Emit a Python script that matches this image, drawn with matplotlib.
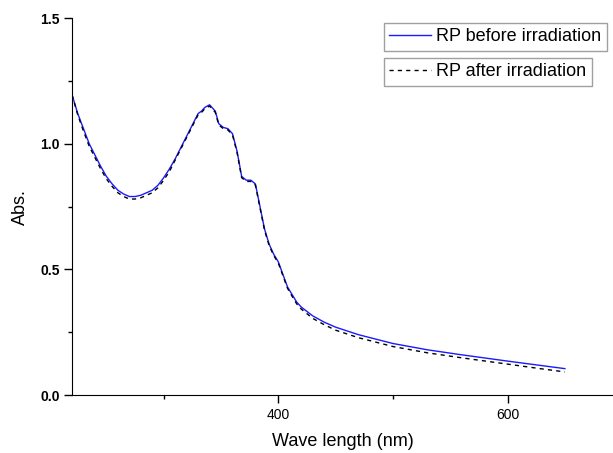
import numpy as np
import matplotlib
matplotlib.use("Agg")
import matplotlib.pyplot as plt
from matplotlib.ticker import MultipleLocator

plt.rcParams['font.family'] = ['Liberation Sans', 'DejaVu Sans']

# wavelength (nm) and absorbance
wavelength = [220, 225, 230, 235, 240, 245, 250, 255, 260, 265, 270, 275, 280,
              285, 290, 295, 300, 305, 310, 315, 320, 325, 330, 333, 336, 340, 345,
              348, 352, 356, 360, 364, 368, 372, 376, 380, 384, 388, 392, 396,
              400, 404, 408, 412, 416, 420, 430, 440, 450, 470, 500, 530, 560,
              600, 630, 650]
abs_before = [1.195, 1.12, 1.06, 1.00, 0.955, 0.91, 0.87, 0.84, 0.815, 0.80, 0.79,
              0.79, 0.795, 0.805, 0.815, 0.835, 0.865, 0.90, 0.94, 0.985, 1.03, 1.075,
              1.12, 1.13, 1.145, 1.155, 1.13, 1.08, 1.065, 1.06, 1.04, 0.97, 0.87, 0.855,
              0.855, 0.84, 0.75, 0.66, 0.60, 0.56, 0.53, 0.48, 0.43, 0.40, 0.37,
              0.35, 0.315, 0.29, 0.27, 0.24, 0.205, 0.18, 0.16, 0.135, 0.117, 0.105]
abs_after = [1.195, 1.115, 1.05, 0.99, 0.945, 0.90, 0.86, 0.83, 0.805, 0.79, 0.78,
             0.78, 0.785, 0.795, 0.805, 0.825, 0.855, 0.89, 0.935, 0.98, 1.025, 1.07,
             1.115, 1.125, 1.14, 1.15, 1.125, 1.075, 1.06, 1.055, 1.035, 0.965, 0.865, 0.85,
             0.85, 0.835, 0.745, 0.655, 0.595, 0.555, 0.525, 0.475, 0.425, 0.393, 0.363,
             0.342, 0.305, 0.28, 0.258, 0.228, 0.193, 0.168, 0.148, 0.123, 0.104, 0.092]

fig = plt.figure(figsize=(6.13, 4.53), dpi=100)
ax = fig.add_axes([0.1175, 0.128, 0.8825, 0.832])

l1, = ax.plot(wavelength, abs_before, color='#1a1aff', lw=1.0)
l2, = ax.plot(wavelength, abs_after, color='black', lw=1.0, linestyle=(0, (3, 3)))

ax.set_xlim(220, 692)
ax.set_ylim(0, 1.5)
ax.xaxis.set_major_locator(MultipleLocator(200))
ax.xaxis.set_minor_locator(MultipleLocator(100))
ax.yaxis.set_major_locator(MultipleLocator(0.5))
ax.yaxis.set_minor_locator(MultipleLocator(0.25))
ax.tick_params(which='major', direction='out', length=5.5, width=1, labelsize=10)
ax.tick_params(which='minor', direction='out', length=3, width=1)
for lab in ax.get_yticklabels():
    lab.set_fontweight('bold')
ax.spines['top'].set_visible(False)
ax.spines['right'].set_visible(False)

ax.set_xlabel("Wave length (nm)", fontsize=13, labelpad=8)
ax.set_ylabel("Abs.", fontsize=13, labelpad=8)

leg1 = ax.legend([l1], ["RP before irradiation"], loc='upper left',
                 bbox_to_anchor=(0.6264, 0.9492), bbox_transform=fig.transFigure,
                 fontsize=13, frameon=True, fancybox=False, edgecolor='#888888',
                 handlelength=2.3, borderpad=0.3, handletextpad=0.3, borderaxespad=0)
ax.add_artist(leg1)
ax.legend([l2], ["RP after irradiation"], loc='upper left',
          bbox_to_anchor=(0.6264, 0.872), bbox_transform=fig.transFigure,
          fontsize=13, frameon=True, fancybox=False, edgecolor='#888888',
          handlelength=2.3, borderpad=0.3, handletextpad=0.3, borderaxespad=0)

fig.savefig("out.png", dpi=100)
